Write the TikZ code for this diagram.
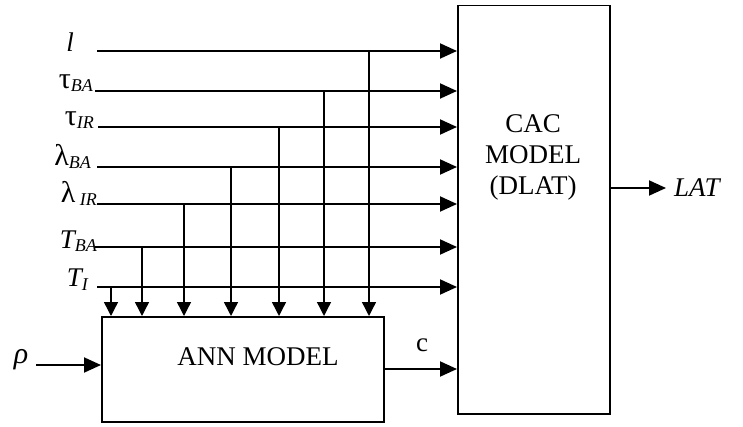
\documentclass[tikz,border=0pt]{standalone}
\usepackage{fontspec}
\setmainfont{Liberation Serif}
\usetikzlibrary{arrows.meta}
\newcommand{\mysub}[1]{\raisebox{-3pt}{\fontsize{18}{18}\selectfont\itshape #1}}
\newcommand{\gr}[1]{{\fontsize{30}{30}\selectfont #1}}
\begin{document}
\begin{tikzpicture}[x=1pt,y=-1pt,
  box/.style={draw, line width=1.5pt, inner sep=0pt, rectangle},
  lbl/.style={inner sep=0pt, font=\fontsize{27}{31}\selectfont},
  hin/.style={line width=1.9pt, -{Triangle[length=17pt,width=15pt]}},
  vin/.style={line width=1.4pt, -{Triangle[length=14pt,width=14pt]}}]
\useasboundingbox (0,0) rectangle (743,427);
% boxes
\node[box, minimum width=152pt, minimum height=408pt, anchor=north west] (cac) at (457,5) {};
\node[lbl, align=center] (cactext) at (533,157) {CAC\\MODEL\\(DLAT)};
\node[box, minimum width=282pt, minimum height=105pt, anchor=north west] (ann) at (101,316) {};
\node[lbl] (anntext) at (258,357) {ANN MODEL};
% input labels
\node[lbl, anchor=base east] (Ll) at (74,52) {\itshape l};
\node[lbl, anchor=base east] (LtBA) at (93,89) {\gr{τ}\mysub{BA}};
\node[lbl, anchor=base east] (LtIR) at (94,126) {\gr{τ}\mysub{IR}};
\node[lbl, anchor=base east] (LlBA) at (91,166) {\gr{λ}\mysub{BA}};
\node[lbl, anchor=base east] (LlIR) at (97,203) {\gr{λ}\,\mysub{IR}};
\node[lbl, anchor=base east] (LTBA) at (97,249) {\itshape T\mysub{BA}};
\node[lbl, anchor=base east] (LTI) at (88,287) {\itshape T\mysub{I}};
% line starts
\coordinate (sl) at (97,51);
\coordinate (stBA) at (95,91);
\coordinate (stIR) at (98,127);
\coordinate (slBA) at (97,167);
\coordinate (slIR) at (97,204);
\coordinate (sTBA) at (95,247);
\coordinate (sTI) at (97,287);
% horizontal inputs
\foreach \s in {sl,stBA,stIR,slBA,slIR,sTBA,sTI}
  \draw[hin] (\s) -- (\s -| cac.west);
% branch points
\coordinate (bTI) at (111,287);
\coordinate (bTBA) at (142,247);
\coordinate (blIR) at (184,204);
\coordinate (blBA) at (231,167);
\coordinate (btIR) at (279,127);
\coordinate (btBA) at (324,91);
\coordinate (bl) at (369,51);
\foreach \b in {bTI,bTBA,blIR,blBA,btIR,btBA,bl}
  \draw[vin] (\b) -- (\b |- ann.north);
% rho
\node[lbl] (rho) at (21,360) {\gr{\itshape ρ}};
\coordinate (srho) at (36,365);
\draw[hin] (srho) -- (srho -| ann.west);
% c
\coordinate (cout) at (383,369);
\draw[hin] (cout) -- (cout -| cac.west);
\node[lbl] (clbl) at (422,345) {c};
% LAT
\coordinate (latout) at (609,188);
\node[lbl, anchor=west] (lat) at (674,188) {\itshape LAT};
\draw[hin, shorten >=8pt] (latout) -- (lat.west);
\end{tikzpicture}
\end{document}
